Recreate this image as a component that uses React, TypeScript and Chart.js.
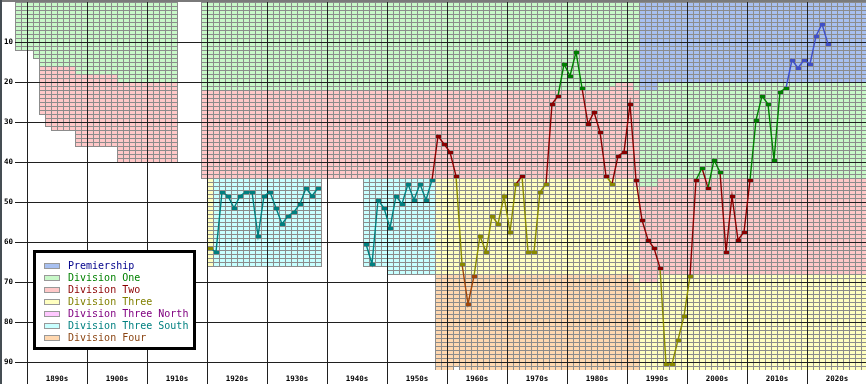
import { useEffect, useRef } from 'react';
import { Chart, registerables } from 'chart.js';

Chart.register(...registerables);

// ---------- axis ----------
const FIRST_COLUMN = 1888;
const X_MAX = 2029.8333;
const LAST_COLUMN = 2029;
const MAX_POSITION = 92;
const decadeTicks = [1890, 1900, 1910, 1920, 1930, 1940, 1950, 1960, 1970, 1980, 1990, 2000, 2010, 2020];
const positionTicks = [10, 20, 30, 40, 50, 60, 70, 80, 90];

// ---------- divisions ----------
const divisionNames = [
  'Premiership',
  'Division One',
  'Division Two',
  'Division Three',
  'Division Three North',
  'Division Three South',
  'Division Four',
];
const divisionFills = ['#a8c0f0', '#c8f8c8', '#ffc8c8', '#ffffc0', '#ffc8ff', '#c8ffff', '#ffd8b0'];
const divisionTextColors = ['#00008b', '#008000', '#8b0000', '#808000', '#800080', '#008080', '#8b4513'];
const divisionLineColors = ['#4050c8', '#008000', '#8b0000', '#8a8a00', '#800080', '#008080', '#a0460a'];

// [first season, last season, number of clubs]
const premiershipSizes = [[1992, 1994, 22], [1995, 2029, 20]];
const divisionOneSizes = [
  [1888, 1890, 12], [1891, 1891, 14], [1892, 1897, 16], [1898, 1904, 18], [1905, 1914, 20],
  [1919, 1986, 22], [1987, 1987, 21], [1988, 1990, 20], [1991, 1991, 22], [1992, 2029, 24],
];
const divisionTwoSizes = [
  [1892, 1892, 12], [1893, 1893, 15], [1894, 1897, 16], [1898, 1904, 18], [1905, 1914, 20],
  [1919, 1986, 22], [1987, 1987, 23], [1988, 2029, 24],
];
const divisionThreeSizes = [[1920, 1920, 22], [1958, 1991, 24], [1992, 1994, 22], [1995, 2029, 24]];
const divisionThreeNorthSizes: number[][] = [];
const divisionThreeSouthSizes = [[1921, 1938, 22], [1946, 1949, 22], [1950, 1957, 24]];
const divisionFourSizes = [[1958, 1960, 24], [1961, 1961, 23], [1962, 1990, 24], [1991, 1991, 22]];

const divisionSizes = [
  premiershipSizes,
  divisionOneSizes,
  divisionTwoSizes,
  divisionThreeSizes,
  divisionThreeNorthSizes,
  divisionThreeSouthSizes,
  divisionFourSizes,
];

// ---------- club's overall league position per season ----------
const CLUB_FIRST_SEASON = 1920;
const positions1920s = [62, 63, 48, 49, 52, 49, 48, 48, 59, 49];
const positions1930s = [48, 52, 56, 54, 53, 51, 47, 49, 47, null];
const positions1940s = [null, null, null, null, null, null, 61, 66, 50, 52];
const positions1950s = [57, 49, 51, 46, 50, 46, 50, 45, 34, 36];
const positions1960s = [38, 44, 66, 76, 69, 59, 63, 54, 56, 49];
const positions1970s = [58, 46, 44, 63, 63, 48, 46, 26, 24, 16];
const positions1980s = [19, 13, 22, 31, 28, 33, 44, 46, 39, 38];
const positions1990s = [26, 45, 55, 60, 62, 67, 91, 91, 85, 79];
const positions2000s = [69, 45, 42, 47, 40, 43, 63, 49, 60, 58];
const positions2010s = [45, 30, 24, 26, 40, 23, 22, 15, 17, 15];
const positions2020s = [16, 9, 6, 11];

const clubPositions: (number | null)[] = [
  ...positions1920s, ...positions1930s, ...positions1940s, ...positions1950s, ...positions1960s,
  ...positions1970s, ...positions1980s, ...positions1990s, ...positions2000s, ...positions2010s,
  ...positions2020s,
];

const GRID = '#202020';
const CELL_LINE = '#8c8c8c';
const MONO = '"DejaVu Sans Mono", monospace';

function sizeIn(runs: number[][], season: number) {
  for (const [a, b, n] of runs) if (season >= a && season <= b) return n;
  return 0;
}

function bandsFor(season: number) {
  const out: { div: number; start: number; end: number }[] = [];
  let start = 0;
  divisionSizes.forEach((runs, d) => {
    const n = sizeIn(runs, season);
    if (n > 0) {
      out.push({ div: d, start, end: start + n });
      start += n;
    }
  });
  return out;
}

function divisionAt(season: number, pos: number) {
  const b = bandsFor(season).find((band) => pos > band.start && pos <= band.end);
  return b ? b.div : 0;
}

const clubDivision = clubPositions.map((p, i) => (p == null ? -1 : divisionAt(CLUB_FIRST_SEASON + i, p)));

const cellsPlugin = {
  id: 'leagueCells',
  beforeDraw(chart: any) {
    const { ctx, chartArea, scales } = chart;
    const x = scales.x;
    const y = scales.y;
    ctx.save();
    ctx.fillStyle = '#ffffff';
    ctx.fillRect(0, 0, chart.width, chart.height);
    ctx.fillStyle = '#7a7a7a';
    ctx.fillRect(0, 0, chart.width, 2);
    ctx.fillStyle = '#454d53';
    ctx.fillRect(0, 0, 2, chart.height);
    ctx.beginPath();
    ctx.rect(chartArea.left, chartArea.top, chartArea.right - chartArea.left, chartArea.bottom - chartArea.top);
    ctx.clip();
    for (let season = FIRST_COLUMN; season <= LAST_COLUMN; season++) {
      const bands = bandsFor(season);
      if (!bands.length) continue;
      const x0 = Math.round(x.getPixelForValue(season));
      const x1 = Math.round(x.getPixelForValue(season + 1));
      for (const b of bands) {
        const y0 = Math.round(y.getPixelForValue(b.start));
        const y1 = Math.round(y.getPixelForValue(b.end));
        ctx.fillStyle = divisionFills[b.div];
        ctx.fillRect(x0, y0, x1 - x0, y1 - y0);
      }
      const total = bands[bands.length - 1].end;
      const yTop = Math.round(y.getPixelForValue(0));
      const yBot = Math.round(y.getPixelForValue(total));
      ctx.fillStyle = CELL_LINE;
      ctx.fillRect(x0, yTop, 1, yBot - yTop + 1);
      ctx.fillRect(x1, yTop, 1, yBot - yTop + 1);
      for (let p = 0; p <= total; p++) {
        const yy = Math.round(y.getPixelForValue(p));
        ctx.fillRect(x0, yy, x1 - x0 + 1, 1);
      }
    }
    ctx.restore();
  },
};

const legendPlugin = {
  id: 'divisionLegend',
  afterDraw(chart: any) {
    const { ctx, chartArea } = chart;
    const left = chartArea.left + 18;
    const top = chartArea.bottom - 120;
    const w = 163;
    const h = 100;
    ctx.save();
    ctx.fillStyle = '#000';
    ctx.fillRect(left, top, w, h);
    ctx.fillStyle = '#fff';
    ctx.fillRect(left + 3, top + 3, w - 6, h - 6);
    ctx.font = `10px ${MONO}`;
    ctx.textBaseline = 'middle';
    ctx.textAlign = 'left';
    divisionNames.forEach((name, i) => {
      const cy = top + 16 + i * 12;
      ctx.fillStyle = divisionFills[i];
      ctx.fillRect(left + 11, cy - 3, 16, 6);
      ctx.strokeStyle = '#999';
      ctx.lineWidth = 1;
      ctx.strokeRect(left + 11.5, cy - 2.5, 15, 5);
      ctx.fillStyle = divisionTextColors[i];
      ctx.fillText(name, left + 35, cy + 0.5);
    });
    ctx.restore();
  },
};

export default function App() {
  const ref = useRef<HTMLCanvasElement>(null);
  useEffect(() => {
    document.body.style.margin = '0';
    const canvas = ref.current!;
    const markers = divisionLineColors.map((c) => {
      const cv = document.createElement('canvas');
      cv.width = 6;
      cv.height = 4;
      const g = cv.getContext('2d')!;
      g.fillStyle = c;
      g.fillRect(1, 1, 5, 3);
      return cv;
    });
    const data = clubPositions.map((p, i) => ({ x: CLUB_FIRST_SEASON + i + 0.5, y: p == null ? null : p - 0.5 }));
    const chart = new Chart(canvas, {
      type: 'line',
      data: {
        datasets: [
          {
            label: 'League position',
            data: data as any,
            borderColor: divisionLineColors[0],
            borderWidth: 1.4,
            tension: 0,
            spanGaps: false,
            pointRadius: 3,
            pointStyle: ((ctx: any) => markers[clubDivision[ctx.dataIndex]] || 'rect') as any,
            segment: {
              borderColor: (ctx: any) => divisionLineColors[clubDivision[ctx.p1DataIndex]] || '#000',
            },
          },
        ],
      },
      options: {
        animation: false,
        responsive: false,
        devicePixelRatio: 1,
        layout: { autoPadding: false, padding: { top: 2, left: 0, right: 0, bottom: 0 } },
        plugins: { legend: { display: false }, tooltip: { enabled: false } },
        scales: {
          x: {
            type: 'linear',
            min: FIRST_COLUMN,
            max: X_MAX,
            afterBuildTicks: (s: any) => {
              s.ticks = decadeTicks.map((v) => ({ value: v }));
            },
            afterFit: (s: any) => {
              s.height = 14;
              s.paddingLeft = 0;
              s.paddingRight = 0;
            },
            grid: { color: GRID, lineWidth: 1, drawTicks: true, tickLength: 14, tickColor: GRID },
            border: { display: false },
            ticks: {
              autoSkip: false,
              maxRotation: 0,
              labelOffset: 30,
              padding: -9.5,
              color: '#000',
              font: { family: MONO, size: 7.5, weight: 'bold' },
              callback: (v: any) => `${v}s`,
            },
          },
          y: {
            type: 'linear',
            reverse: true,
            min: 0,
            max: MAX_POSITION,
            afterBuildTicks: (s: any) => {
              s.ticks = positionTicks.map((v) => ({ value: v }));
            },
            afterFit: (s: any) => {
              s.width = 15;
              s.paddingTop = 0;
              s.paddingBottom = 0;
            },
            grid: { color: GRID, lineWidth: 1, drawTicks: false },
            border: { display: false },
            ticks: {
              autoSkip: false,
              padding: 2,
              color: '#000',
              font: { family: MONO, size: 7.5, weight: 'bold' },
            },
          },
        },
      },
      plugins: [cellsPlugin, legendPlugin],
    } as any);
    return () => chart.destroy();
  }, []);
  return (
    <div style={{ width: 866, height: 384 }}>
      <canvas ref={ref} width={866} height={384} style={{ display: 'block', width: 866, height: 384 }} />
    </div>
  );
}
